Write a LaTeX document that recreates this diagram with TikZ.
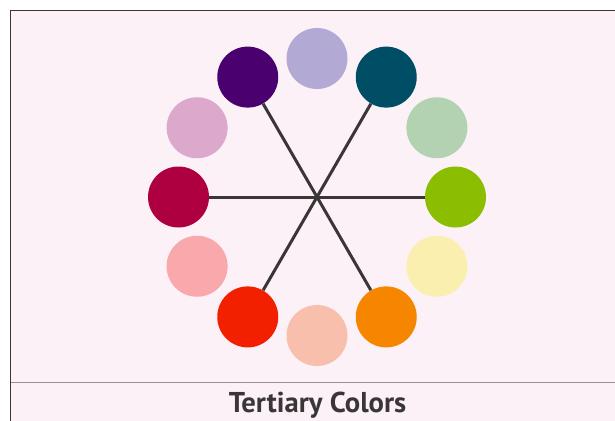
\documentclass[tikz,border=0pt]{standalone}
\usepackage{fontspec}
\setmainfont{PT Sans}
\usepackage{tikz}

\definecolor{paper}{RGB}{252,241,247}
\definecolor{ink}{RGB}{58,54,56}
\definecolor{rule}{RGB}{150,145,148}
\definecolor{cgreen}{RGB}{139,190,0}
\definecolor{cltgreen}{RGB}{178,210,177}
\definecolor{cteal}{RGB}{0,77,102}
\definecolor{clavender}{RGB}{179,169,213}
\definecolor{cpurple}{RGB}{74,0,110}
\definecolor{clilac}{RGB}{220,168,204}
\definecolor{ccrimson}{RGB}{174,0,64}
\definecolor{cltpink}{RGB}{249,168,172}
\definecolor{cred}{RGB}{243,32,0}
\definecolor{cpeach}{RGB}{248,192,172}
\definecolor{corange}{RGB}{246,134,0}
\definecolor{cltyellow}{RGB}{250,239,174}

\tikzset{
  swatch/.style={circle, inner sep=0pt, minimum size=45.75pt, fill=#1},
  spoke/.style={draw=ink, line width=2.25pt}
}

\begin{document}
\begin{tikzpicture}[x=0.75pt,y=0.75pt,yscale=-1,xscale=1]
\clip (0,0) rectangle (615,421);
\fill[white] (0,0) rectangle (615,421);

% frame and caption rule
\draw [fill=paper, draw=ink, line width=0.75pt] (10.5,10.5) rectangle (640,440) ;
\draw [draw=rule, line width=0.75pt] (10.5,382.3) -- (615,382.3) ;

% colour wheel
\node [swatch=cgreen]     (green)     at (455.5,197) {};
\node [swatch=cltgreen]   (ltgreen)   at (436.9,127.75) {};
\node [swatch=cteal]      (teal)      at (386.25,77.1) {};
\node [swatch=clavender]  (lavender)  at (317,58.5) {};
\node [swatch=cpurple]    (purple)    at (247.75,77.1) {};
\node [swatch=clilac]     (lilac)     at (197.1,127.75) {};
\node [swatch=ccrimson]   (crimson)   at (178.5,197) {};
\node [swatch=cltpink]    (ltpink)    at (197.1,266.25) {};
\node [swatch=cred]       (red)       at (247.75,316.9) {};
\node [swatch=cpeach]     (peach)     at (317,335.5) {};
\node [swatch=corange]    (orange)    at (386.25,316.9) {};
\node [swatch=cltyellow]  (ltyellow)  at (436.9,266.25) {};

\draw [spoke] (crimson) -- (green) ;
\draw [spoke] (purple) -- (orange) ;
\draw [spoke] (teal) -- (red) ;

\node [anchor=base, text=ink, font=\fontsize{21.5}{24}\selectfont\bfseries] (title) at (317.5,412) {Tertiary Colors};

\end{tikzpicture}
\end{document}
